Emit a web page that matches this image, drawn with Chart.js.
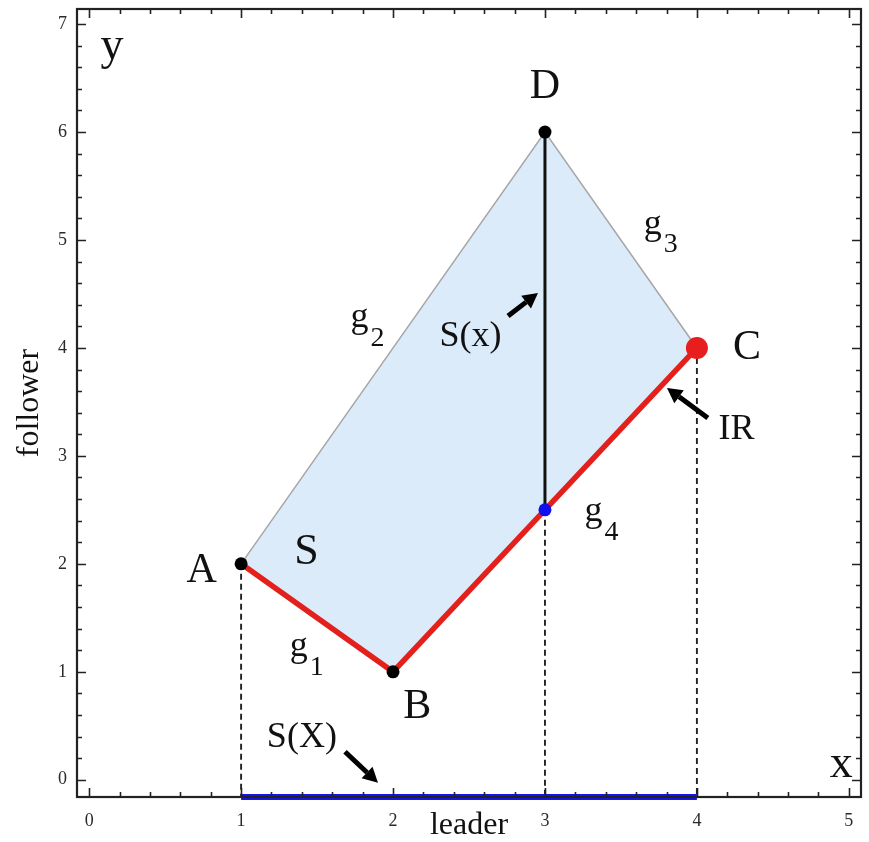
<!DOCTYPE html>
<html>
<head>
<meta charset="utf-8">
<script src="https://cdn.jsdelivr.net/npm/chart.js@4.4.1/dist/chart.umd.min.js"></script>
<style>
html,body{margin:0;padding:0;background:#fff;}
canvas{display:block;}
</style>
</head>
<body>
<canvas id="c" width="869" height="842"></canvas>
<script>
// ---- data ----
const vertexNames = ['A', 'B', 'C', 'D'];
const vertexX = [1, 2, 4, 3];
const vertexY = [2, 1, 4, 6];
const sectionX = 3;          // x where S(x) is drawn
const sectionTop = 6;        // top of S(x)
const sectionBottom = 2.5;   // point on g4
const projectionX = [1, 4];  // S(X) on the leader axis
const xTickLabels = [0, 1, 2, 3, 4, 5];
const yTickLabels = [0, 1, 2, 3, 4, 5, 6, 7];
const xRange = [-0.08, 5.08];
const yRange = [-0.16, 7.14];
const minorStep = 0.2;

// annotation text (data coords)
const labelTexts = ['y', 'x', 'D', 'C', 'A', 'B', 'S', 'S(x)', 'IR', 'S(X)'];
const labelX = [0.15, 4.95, 3.0, 4.33, 0.74, 2.16, 1.43, 2.51, 4.26, 1.40];
const labelY = [6.79, 0.14, 6.42, 4.0, 1.93, 0.67, 2.11, 4.11, 3.24, 0.39];
const labelSize = [46, 46, 42, 42, 42, 42, 44, 36, 36, 36];
const gSubs = ['1', '2', '3', '4'];
const gX = [1.38, 1.78, 3.71, 3.32];
const gY = [1.20, 4.24, 5.11, 2.45];
// arrows: tail -> head
const arrowTailX = [2.757, 4.072, 1.684];
const arrowTailY = [4.296, 3.352, 0.259];
const arrowHeadX = [2.954, 3.803, 1.901];
const arrowHeadY = [4.509, 3.630, -0.028];

const P = i => ({ x: vertexX[i], y: vertexY[i] });
const A = P(0), B = P(1), C = P(2), D = P(3);
const serif = '"Liberation Serif", "DejaVu Serif", serif';

const datasets = [
  { label: 'S', data: [A, D, C, B, A], showLine: true, fill: 'shape',
    backgroundColor: 'rgb(219,235,249)', borderColor: '#a6a6a6', borderWidth: 1.5,
    pointRadius: 0, order: 10 },
  { label: 'dash A', data: [A, { x: A.x, y: yRange[0] }], showLine: true, borderDash: [6, 4],
    borderColor: '#222', borderWidth: 1.9, pointRadius: 0, order: 9 },
  { label: 'dash S', data: [{ x: sectionX, y: sectionBottom }, { x: sectionX, y: yRange[0] }], showLine: true, borderDash: [6, 4],
    borderColor: '#222', borderWidth: 1.9, pointRadius: 0, order: 9 },
  { label: 'dash C', data: [C, { x: C.x, y: yRange[0] }], showLine: true, borderDash: [6, 4],
    borderColor: '#222', borderWidth: 1.9, pointRadius: 0, order: 9 },
  { label: 'IR', data: [A, B, C], showLine: true, borderColor: '#e3201c', borderWidth: 5.5,
    pointRadius: 0, order: 8 },
  { label: 'S(x)', data: [D, { x: sectionX, y: sectionBottom }], showLine: true, borderColor: '#111', borderWidth: 3,
    pointRadius: 0, order: 7 },
  { label: 'S(X)', data: [{ x: projectionX[0], y: yRange[0] }, { x: projectionX[1], y: yRange[0] }], showLine: true,
    borderColor: '#1515ee', borderWidth: 6, pointRadius: 0, clip: false, order: 6 },
  { label: 'vertices', data: [A, B, D], showLine: false, pointRadius: 6.5, pointBackgroundColor: '#000',
    pointBorderWidth: 0, order: 2 },
  { label: 'C', data: [C], showLine: false, pointRadius: 11, pointBackgroundColor: '#e81e1e',
    pointBorderWidth: 0, order: 1 },
  { label: 'g4 point', data: [{ x: sectionX, y: sectionBottom }], showLine: false, pointRadius: 6.5,
    pointBackgroundColor: '#1010ee', pointBorderWidth: 0, order: 1 }
];

const decor = {
  id: 'decor',
  afterDatasetsDraw(chart) {
    const ctx = chart.ctx, xs = chart.scales.x, ys = chart.scales.y;
    ctx.save();
    ctx.fillStyle = '#111';
    ctx.textAlign = 'center';
    ctx.textBaseline = 'middle';
    labelTexts.forEach((t, i) => {
      ctx.font = labelSize[i] + 'px ' + serif;
      ctx.fillText(t, xs.getPixelForValue(labelX[i]), ys.getPixelForValue(labelY[i]));
    });
    gSubs.forEach((s, i) => {
      const px = xs.getPixelForValue(gX[i]), py = ys.getPixelForValue(gY[i]);
      ctx.font = '36px ' + serif;
      ctx.fillText('g', px, py - 4);
      ctx.font = '28px ' + serif;
      ctx.fillText(s, px + 18, py + 17);
    });
    // arrows
    ctx.strokeStyle = '#000';
    ctx.fillStyle = '#000';
    arrowTailX.forEach((_, i) => {
      const x0 = xs.getPixelForValue(arrowTailX[i]), y0 = ys.getPixelForValue(arrowTailY[i]);
      const x1 = xs.getPixelForValue(arrowHeadX[i]), y1 = ys.getPixelForValue(arrowHeadY[i]);
      const ang = Math.atan2(y1 - y0, x1 - x0);
      const hl = 15, hw = 8;
      const bx = x1 - hl * Math.cos(ang), by = y1 - hl * Math.sin(ang);
      ctx.lineWidth = 5;
      ctx.beginPath();
      ctx.moveTo(x0, y0);
      ctx.lineTo(bx, by);
      ctx.stroke();
      ctx.beginPath();
      ctx.moveTo(x1, y1);
      ctx.lineTo(bx + hw * Math.sin(ang), by - hw * Math.cos(ang));
      ctx.lineTo(bx - hw * Math.sin(ang), by + hw * Math.cos(ang));
      ctx.closePath();
      ctx.fill();
    });
    ctx.restore();
  },
  afterDraw(chart) {
    const ctx = chart.ctx, xs = chart.scales.x, ys = chart.scales.y, a = chart.chartArea;
    ctx.save();
    ctx.strokeStyle = '#222';
    ctx.lineWidth = 1.6;
    const near = (v) => Math.abs(v - Math.round(v)) < 1e-6;
    for (let v = xTickLabels[0]; v <= xTickLabels[xTickLabels.length - 1] + 1e-9; v += minorStep) {
      const px = Math.round(xs.getPixelForValue(v)) + 0.5;
      const len = near(v) ? 9 : 5;
      ctx.beginPath();
      ctx.moveTo(px, a.bottom); ctx.lineTo(px, a.bottom - len);
      ctx.moveTo(px, a.top); ctx.lineTo(px, a.top + len);
      ctx.stroke();
    }
    for (let v = yTickLabels[0]; v <= yTickLabels[yTickLabels.length - 1] + 1e-9; v += minorStep) {
      const py = Math.round(ys.getPixelForValue(v)) + 0.5;
      const len = near(v) ? 9 : 5;
      ctx.beginPath();
      ctx.moveTo(a.left, py); ctx.lineTo(a.left + len, py);
      ctx.moveTo(a.right, py); ctx.lineTo(a.right - len, py);
      ctx.stroke();
    }
    ctx.lineWidth = 2.2;
    ctx.strokeRect(a.left, a.top, a.right - a.left, a.bottom - a.top);
    ctx.restore();
  }
};

new Chart(document.getElementById('c'), {
  type: 'scatter',
  data: { datasets },
  plugins: [decor],
  options: {
    responsive: false,
    animation: false,
    layout: { autoPadding: false, padding: { top: 9, right: 8, left: 0, bottom: 0 } },
    plugins: { legend: { display: false }, tooltip: { enabled: false } },
    scales: {
      x: {
        type: 'linear', min: xRange[0], max: xRange[1],
        grid: { display: false },
        border: { display: false },
        afterBuildTicks: s => { s.ticks = xTickLabels.map(v => ({ value: v })); },
        afterFit: s => { s.height = 45; s.paddingLeft = 0; s.paddingRight = 0; },
        ticks: { color: '#2a2a2a', font: { family: serif, size: 18 }, padding: 5 },
        title: { display: true, text: 'leader', color: '#111', font: { family: serif, size: 32, lineHeight: 1 }, padding: { top: 0, bottom: 0 } }
      },
      y: {
        type: 'linear', min: yRange[0], max: yRange[1],
        grid: { display: false },
        border: { display: false },
        afterBuildTicks: s => { s.ticks = yTickLabels.map(v => ({ value: v })); },
        afterFit: s => { s.width = 77; s.paddingTop = 0; s.paddingBottom = 0; },
        ticks: { color: '#2a2a2a', font: { family: serif, size: 18 }, padding: 2 },
        title: { display: true, text: 'follower', color: '#111', font: { family: serif, size: 32, lineHeight: 1 }, padding: { top: 14, bottom: 0 } }
      }
    }
  }
});
</script>
</body>
</html>
